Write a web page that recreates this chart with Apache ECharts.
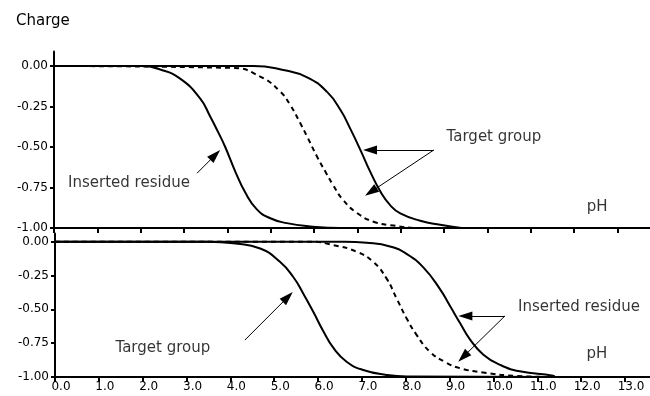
<!DOCTYPE html>
<html>
<head>
<meta charset="utf-8">
<script src="https://cdn.jsdelivr.net/npm/echarts@6/dist/echarts.min.js"></script>
<style>
  html, body { margin: 0; padding: 0; background: #fff; }
  #chart { width: 650px; height: 396px; }
</style>
</head>
<body>
<div id="chart"></div>
<script>
// Titration curves: charge vs pH, two panels.
// Each curve is a list of [pH, charge] points.

// Upper panel
const upperInserted = [[0, 0], [2.0, 0], [2.45, -0.022], [2.91, -0.078], [3.37, -0.2], [3.60, -0.31], [3.79, -0.41], [3.95, -0.50], [4.18, -0.65], [4.41, -0.78], [4.68, -0.885], [4.99, -0.94], [5.37, -0.97], [5.91, -0.99], [6.6, -1.0], [9.4, -1.0]];
const upperReference = [[0, 0], [4.13, -0.012], [4.76, -0.066], [5.22, -0.158], [5.45, -0.241], [5.68, -0.352], [5.84, -0.436], [6.07, -0.56], [6.26, -0.652], [6.44, -0.735], [6.67, -0.827], [6.99, -0.907], [7.37, -0.961], [7.83, -0.985], [8.45, -1.0], [9.4, -1.0]];
const upperTarget = [[0, 0], [4.6, 0], [5.29, -0.025], [5.84, -0.07], [6.30, -0.16], [6.61, -0.272], [6.84, -0.39], [7.07, -0.519], [7.30, -0.655], [7.53, -0.775], [7.76, -0.86], [7.99, -0.91], [8.45, -0.955], [8.91, -0.98], [9.4, -1.0]];

// Lower panel
const lowerTarget = [[0, 0], [3.5, 0], [4.07, -0.012], [4.68, -0.05], [5.13, -0.148], [5.43, -0.259], [5.66, -0.382], [5.89, -0.518], [6.12, -0.662], [6.35, -0.785], [6.65, -0.887], [7.03, -0.948], [7.56, -0.985], [8.02, -0.997], [11.4, -1.0]];
const lowerReference = [[0, 0], [5.8, 0], [6.35, -0.025], [6.88, -0.074], [7.26, -0.15], [7.56, -0.271], [7.79, -0.419], [8.02, -0.567], [8.25, -0.69], [8.55, -0.813], [8.93, -0.895], [9.24, -0.935], [9.76, -0.967], [10.53, -0.992], [11.4, -1.0]];
const lowerInserted = [[0, 0], [6.6, 0], [7.11, -0.008], [7.64, -0.035], [8.02, -0.09], [8.40, -0.19], [8.78, -0.35], [9.01, -0.475], [9.24, -0.603], [9.46, -0.72], [9.77, -0.835], [10.15, -0.91], [10.60, -0.958], [11.36, -0.99], [11.4, -1.0]];

// Axis ticks
const phTicks = [0, 1, 2, 3, 4, 5, 6, 7, 8, 9, 10, 11, 12, 13];
const chargeTicks = [-1, -0.75, -0.5, -0.25, 0];

// Annotation arrows: [from [pH, charge], to [pH, charge]]
const upperArrows = [
  [[3.30, -0.662], [3.72, -0.549]],
  [[8.76, -0.519], [7.29, -0.519]],
  [[8.76, -0.519], [7.31, -0.777]]
];
const lowerArrows = [
  [[4.33, -0.727], [5.31, -0.409]],
  [[10.26, -0.549], [9.36, -0.549]],
  [[10.26, -0.549], [9.31, -0.851]]
];

// Annotation texts: [text, pH, charge]
const upperTexts = [
  ['Inserted residue', 1.73, -0.722],
  ['Target group', 10.15, -0.438],
  ['pH', 12.53, -0.870]
];
const lowerTexts = [
  ['Target group', 2.46, -0.786],
  ['Inserted residue', 11.95, -0.485],
  ['pH', 12.36, -0.83]
];

const FONT = 'DejaVu Sans';
const INK = '#000';

function xAxisFor(gridIndex, max, showLabels) {
  return {
    type: 'value', gridIndex: gridIndex, min: 0, max: max,
    axisLine: { onZero: false, lineStyle: { color: INK, width: 2 } },
    axisTick: { show: true, inside: false, length: 5, customValues: phTicks, lineStyle: { color: INK, width: 2 } },
    axisLabel: {
      show: showLabels, customValues: phTicks, margin: 4,
      color: INK, fontFamily: FONT, fontSize: 12,
      padding: [0, 0, 0, 12],
      formatter: v => v.toFixed(1)
    },
    splitLine: { show: false }
  };
}

function yAxisFor(gridIndex, max) {
  return {
    type: 'value', gridIndex: gridIndex, min: -1, max: max,
    axisLine: { show: true, onZero: false, lineStyle: { color: INK, width: 2 } },
    axisTick: { show: true, inside: false, length: 4, customValues: chargeTicks, lineStyle: { color: INK, width: 2 } },
    axisLabel: {
      customValues: chargeTicks, margin: 6,
      color: INK, fontFamily: FONT, fontSize: 12,
      formatter: v => v.toFixed(2)
    },
    splitLine: { show: false }
  };
}

function curve(data, axisIndex, dashed, arrows) {
  const s = {
    type: 'line', data: data, xAxisIndex: axisIndex, yAxisIndex: axisIndex,
    showSymbol: false, symbol: 'none', smooth: 0.5,
    lineStyle: { color: INK, width: 2, type: dashed ? [5, 4] : 'solid' },
    silent: true, z: 3
  };
  if (arrows) {
    s.markLine = {
      silent: true, animation: false,
      symbol: ['none', 'triangle'], symbolSize: [9, 14],
      lineStyle: { color: INK, width: 1, type: 'solid' },
      label: { show: false },
      emphasis: { disabled: true },
      data: arrows.map(a => [{ coord: a[0] }, { coord: a[1] }])
    };
  }
  return s;
}

function texts(list, axisIndex) {
  return {
    type: 'scatter', xAxisIndex: axisIndex, yAxisIndex: axisIndex,
    symbolSize: 1, itemStyle: { color: 'rgba(0,0,0,0)' }, silent: true,
    label: {
      show: true, position: 'inside', formatter: '{b}',
      color: INK, fontFamily: FONT, fontSize: 15
    },
    data: list.map(t => ({ name: t[0], value: [t[1], t[2]] })),
    z: 5
  };
}

const chart = echarts.init(document.getElementById('chart'), null, { renderer: 'canvas' });
chart.setOption({
  animation: false,
  backgroundColor: '#fff',
  textStyle: { fontFamily: FONT },
  grid: [
    { left: 54, right: 0, top: 51.4, bottom: 168 },
    { left: 55, right: 0, top: 233.6, bottom: 19 }
  ],
  xAxis: [xAxisFor(0, 13.75, false), xAxisFor(1, 13.57, true)],
  yAxis: [yAxisFor(0, 0.09), yAxisFor(1, 0.06)],
  graphic: [{
    type: 'text', left: 16, top: 14,
    style: { text: 'Charge', fill: INK, font: '15px "DejaVu Sans"' }
  }],
  series: [
    curve(upperInserted, 0, false, upperArrows),
    curve(upperReference, 0, true),
    curve(upperTarget, 0, false),
    texts(upperTexts, 0),
    curve(lowerTarget, 1, false, lowerArrows),
    curve(lowerReference, 1, true),
    curve(lowerInserted, 1, false),
    texts(lowerTexts, 1)
  ]
});
</script>
</body>
</html>
